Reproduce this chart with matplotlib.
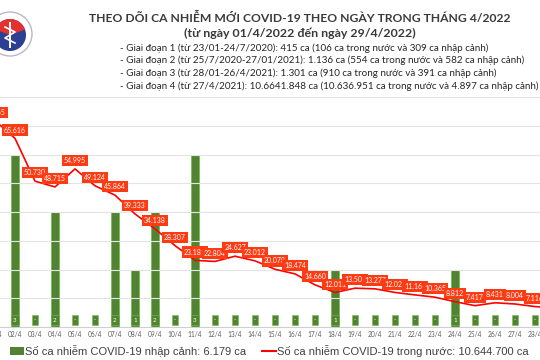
import matplotlib
matplotlib.use("Agg")
import matplotlib.pyplot as plt
from matplotlib.patches import Circle, Wedge, Rectangle
from matplotlib.lines import Line2D

plt.rcParams["font.family"] = ["Lato", "DejaVu Sans"]

# ngày trong tháng 4/2022
days = [f"{d:02d}/4" for d in range(1, 30)]

# ca trong nước (đường đỏ)
domestic = [71765, 65616, 50730, 48715, 54995, 49124, 45864, 39333, 34138, 28307,
            23181, 22804, 24627, 23012, 20078, 18474, 14660, 12011, 13500, 13277,
            12021, 11160, 10365, 8812, 7417, 8431, 8004, 7116, 6500]

# ca nhập cảnh (cột xanh)
imported = [0, 3, 0, 2, 0, 0, 2, 1, 2, 0,
            3, 0, 0, 0, 0, 0, 0, 1, 0, 0,
            0, 0, 0, 1, 0, 0, 0, 0, 0]

title1 = "THEO DÕI CA NHIỄM MỚI COVID-19 THEO NGÀY TRONG THÁNG 4/2022"
title2 = "(từ ngày 01/4/2022 đến ngày 29/4/2022)"
notes = [
    "- Giai đoạn 1 (từ 23/01-24/7/2020): 415 ca (106 ca trong nước và 309 ca nhập cảnh)",
    "- Giai đoạn 2 (từ 25/7/2020-27/01/2021): 1.136 ca (554 ca trong nước và 582 ca nhập cảnh)",
    "- Giai đoạn 3 (từ 28/01-26/4/2021): 1.301 ca (910 ca trong nước và 391 ca nhập cảnh)",
    "- Giai đoạn 4 (từ 27/4/2021): 10.6641.848 ca (10.636.951 ca trong nước và 4.897 ca nhập cảnh)",
]
legend_bar = "Số ca nhiễm COVID-19 nhập cảnh: 6.179 ca"
legend_line = "Số ca nhiễm COVID-19 trong nước: 10.644.700 ca"

RED = "#ff0000"
LABEL_RED = "#ff3b14"
GREEN = "#548235"
GREEN_EDGE = "#6cc24a"


def fmt(v):
    return f"{v:,}".replace(",", ".")


W, H = 540, 360
fig = plt.figure(figsize=(W / 100, H / 100), dpi=100)

# trục: ngày i nằm ở pixel 20*i - 5
x0, x1 = -0.6, 28.6
left_px = 20 * x0 - 5
width_px = 20 * (x1 - x0)
bottom_px = 33
height_px = 327 - 97
ax = fig.add_axes([left_px / W, bottom_px / H, width_px / W, height_px / H])
ax2 = ax.twinx()

xs = list(range(len(days)))

# cột nhập cảnh
ax2.bar(xs, imported, width=0.36, color=GREEN, edgecolor=GREEN_EDGE, linewidth=0.6, zorder=2)
for x, v in zip(xs, imported):
    ax2.text(x, 0.12, str(v) if v else "-", ha="center", va="center", fontsize=4.5,
             color="white", zorder=4,
             bbox=dict(boxstyle="square,pad=0.35", fc=GREEN, ec=GREEN_EDGE, lw=0.4))
ax2.set_ylim(0, 4)
ax2.set_xlim(x0, x1)
ax2.axis("off")

# đường trong nước
ax.set_zorder(ax2.get_zorder() + 1)
ax.patch.set_visible(False)
ax.plot(xs, domestic, color=RED, lw=1.2, zorder=3)
for x, v in zip(xs, domestic):
    ax.annotate(fmt(v), (x, v), xytext=(0, 6), textcoords="offset points",
                ha="center", va="center", fontsize=5, color="white", zorder=5,
                bbox=dict(boxstyle="square,pad=0.3", fc=LABEL_RED, ec="none"))

ax.set_xlim(x0, x1)
ax.set_ylim(0, 80000)
ax.set_yticks(range(0, 80001, 10000))
ax.set_yticklabels([])
ax.tick_params(axis="y", length=0)
ax.grid(axis="y", color="#e3e3e3", lw=0.8)
ax.set_axisbelow(True)
ax.set_xticks(xs)
ax.set_xticklabels(days, fontsize=4.8, color="#606060")
ax.tick_params(axis="x", length=0, pad=3)
for s in ["top", "right", "left"]:
    ax.spines[s].set_visible(False)
ax.spines["bottom"].set_color("#d0d0d0")

# tiêu đề
fig.text(300 / W, 1 - 18 / H, title1, ha="center", va="center", fontsize=8.7,
         fontweight="bold", color="#3a3a3a")
fig.text(300 / W, 1 - 33 / H, title2, ha="center", va="center", fontsize=8.9,
         fontweight="bold", color="#3a3a3a")
for i, line in enumerate(notes):
    fig.text(120 / W, 1 - (48 + 12.7 * i) / H, line, ha="left", va="center",
             fontsize=7.1, color="#262626")

# logo (đơn giản)
lax = fig.add_axes([0, 1 - 60 / H, 60 / W, 60 / H])
lax.set_xlim(0, 60)
lax.set_ylim(60, 0)
lax.set_aspect("equal")
lax.axis("off")
lax.add_patch(Circle((10, 34), 22, fc="white", ec="#b8b8c8", lw=1.0))
lax.add_patch(Circle((10, 35), 16, fc="#2b3f93", ec="none"))
lax.add_patch(Wedge((10, 35), 16, 200, 340, fc="#e53030", ec="none"))
lax.add_patch(Rectangle((9, 22), 2, 26, fc="white", ec="none"))
lax.plot([5, 15, 5, 15], [27, 32, 38, 43], color="white", lw=1.2)

# chú thích
fig.patches.append(Rectangle((10 / W, 1 - 355 / H), 14 / W, 8 / H,
                             transform=fig.transFigure, fc=GREEN, ec="none"))
fig.text(25 / W, 1 - 351 / H, legend_bar, ha="left", va="center", fontsize=8,
         color="#404040", family=["Liberation Sans", "DejaVu Sans"])
fig.lines.append(Line2D([262 / W, 276 / W], [1 - 351 / H, 1 - 351 / H],
                        transform=fig.transFigure, color=RED, lw=1.5))
fig.text(277 / W, 1 - 351 / H, legend_line, ha="left", va="center", fontsize=8,
         color="#404040", family=["Liberation Sans", "DejaVu Sans"])

fig.savefig("out.png", dpi=100)
